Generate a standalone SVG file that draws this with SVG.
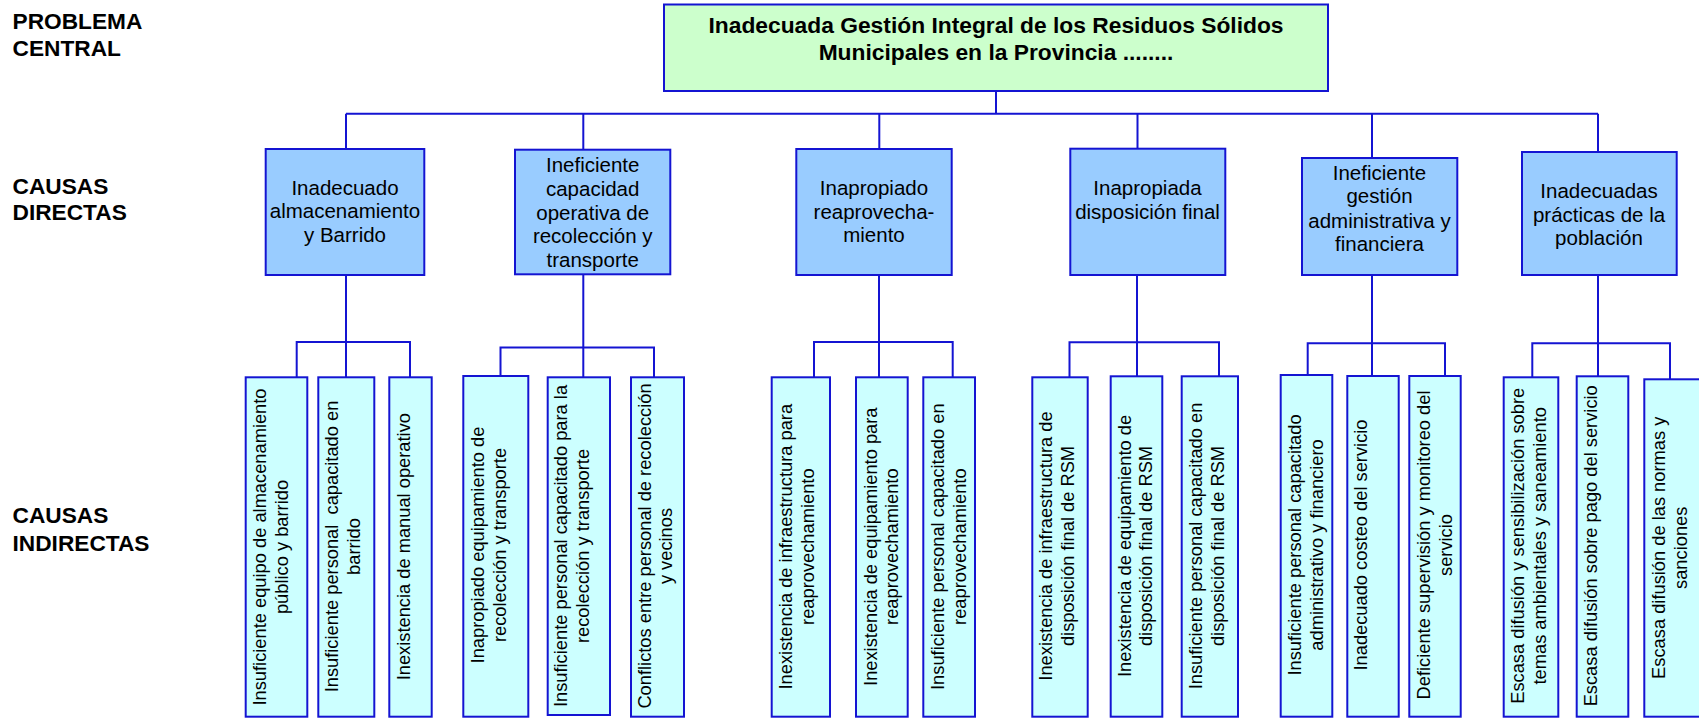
<svg xmlns="http://www.w3.org/2000/svg" width="1699" height="718" viewBox="0 0 1699 718">
<style>
.lbl{font-family:"Liberation Sans",Arial,sans-serif;font-weight:bold;font-size:22.7px;fill:#000}
.title{font-family:"Liberation Sans",Arial,sans-serif;font-weight:bold;font-size:22.8px;fill:#000;text-anchor:middle}
.mid{font-family:"Liberation Sans",Arial,sans-serif;font-size:20.5px;fill:#000;text-anchor:middle}
.rot{font-family:"Liberation Sans",Arial,sans-serif;font-size:18.3px;fill:#000;text-anchor:middle}
.bxT{fill:#CCFFCC;stroke:#1414D2;stroke-width:2}
.bxM{fill:#99CCFF;stroke:#1414D2;stroke-width:2}
.bxB{fill:#CCFFFF;stroke:#1414D2;stroke-width:2}
.con{fill:none;stroke:#1414D2;stroke-width:2}
</style>
<rect width="1699" height="718" fill="#fff"/>
<g id="labels">
<text class="lbl" x="12.5" y="29">PROBLEMA</text>
<text class="lbl" x="12.5" y="55.7">CENTRAL</text>
<text class="lbl" x="12.5" y="194">CAUSAS</text>
<text class="lbl" x="12.5" y="220">DIRECTAS</text>
<text class="lbl" x="12.5" y="522.7">CAUSAS</text>
<text class="lbl" x="12.5" y="551">INDIRECTAS</text>
</g>
<g id="connectors">
<path class="con" d="M996 91V113.7M346 113.7H1598"/>
<path class="con" d="M346 113.7V149M583.3 113.7V149.7M879.3 113.7V149M1137.5 113.7V148.7M1372 113.7V158M1598 113.7V152"/>
<path class="con" d="M346 275V377.3M583.3 274.3V377.3M879 275V377.3M1137 275V376.3M1372 275V376M1598 275V376.3"/>
<path class="con" d="M296.7 377.3V342H410V377.3"/>
<path class="con" d="M500.5 376V347.5H654V377.3"/>
<path class="con" d="M814 377.3V342H952.7V377.3"/>
<path class="con" d="M1069.5 377.3V342.3H1219V377.3"/>
<path class="con" d="M1307.7 375V343.3H1445V376"/>
<path class="con" d="M1532.3 377.3V343.3H1670V379.3"/>
</g>
<g id="problema-central">
<rect class="bxT" x="664" y="4.5" width="664" height="86.5"/>
<text class="title" x="996" y="33.3">Inadecuada Gestión Integral de los Residuos Sólidos</text>
<text class="title" x="996" y="60">Municipales en la Provincia ........</text>
</g>
<g id="cd1">
<rect class="bxM" x="265.7" y="149" width="158.6" height="126"/>
<text class="mid" x="345"><tspan x="345" y="195">Inadecuado</tspan><tspan x="345" y="218.3">almacenamiento</tspan><tspan x="345" y="241.7">y Barrido</tspan></text>
</g>
<g id="cd2">
<rect class="bxM" x="515" y="149.7" width="155.3" height="124.6"/>
<text class="mid"><tspan x="592.7" y="171.7">Ineficiente</tspan><tspan x="592.7" y="196">capacidad</tspan><tspan x="592.7" y="220">operativa de</tspan><tspan x="592.7" y="243.3">recolección y</tspan><tspan x="592.7" y="266.7">transporte</tspan></text>
</g>
<g id="cd3">
<rect class="bxM" x="796.3" y="149" width="155.4" height="126"/>
<text class="mid"><tspan x="874" y="195">Inapropiado</tspan><tspan x="874" y="219">reaprovecha-</tspan><tspan x="874" y="242.3">miento</tspan></text>
</g>
<g id="cd4">
<rect class="bxM" x="1070.3" y="148.7" width="155" height="126.3"/>
<text class="mid"><tspan x="1147.5" y="195">Inapropiada</tspan><tspan x="1147.5" y="219">disposición final</tspan></text>
</g>
<g id="cd5">
<rect class="bxM" x="1302" y="158" width="155.3" height="117"/>
<text class="mid"><tspan x="1379.5" y="180">Ineficiente</tspan><tspan x="1379.5" y="203.3">gestión</tspan><tspan x="1379.5" y="227.7">administrativa y</tspan><tspan x="1379.5" y="250.7">financiera</tspan></text>
</g>
<g id="cd6">
<rect class="bxM" x="1522" y="152" width="154.7" height="123"/>
<text class="mid"><tspan x="1599" y="198.3">Inadecuadas</tspan><tspan x="1599" y="221.7">prácticas de la</tspan><tspan x="1599" y="245">población</tspan></text>
</g>
<g id="ci1a">
<rect class="bxB" x="245.7" y="377.3" width="61.6" height="339.4"/>
<text class="rot" transform="translate(266 547) rotate(-90)"><tspan x="0" y="0">Insuficiente equipo de almacenamiento</tspan><tspan x="0" y="21.7">público y barrido</tspan></text>
</g>
<g id="ci1b">
<rect class="bxB" x="318.3" y="377.3" width="56" height="339.4"/>
<text class="rot" xml:space="preserve" transform="translate(338.3 546.5) rotate(-90)"><tspan x="0" y="0">Insuficiente personal  capacitado en</tspan><tspan x="0" y="21.7">barrido</tspan></text>
</g>
<g id="ci1c">
<rect class="bxB" x="389.3" y="377.3" width="42.4" height="339.4"/>
<text class="rot" transform="translate(410 546.7) rotate(-90)">Inexistencia de manual operativo</text>
</g>
<g id="ci2a">
<rect class="bxB" x="463.3" y="376" width="65" height="340.7"/>
<text class="rot" transform="translate(484 545) rotate(-90)"><tspan x="0" y="0">Inapropiado equipamiento de</tspan><tspan x="0" y="21.7">recolección y transporte</tspan></text>
</g>
<g id="ci2b">
<rect class="bxB" x="547.7" y="377.3" width="62.3" height="337.7"/>
<text class="rot" transform="translate(567.3 546) rotate(-90)"><tspan x="0" y="0">Insuficiente personal capacitado para la</tspan><tspan x="0" y="21.7">recolección y transporte</tspan></text>
</g>
<g id="ci2c">
<rect class="bxB" x="631" y="377.3" width="53" height="339.4"/>
<text class="rot" transform="translate(650.7 546) rotate(-90)"><tspan x="0" y="0">Conflictos entre personal de recolección</tspan><tspan x="0" y="21.7">y vecinos</tspan></text>
</g>
<g id="ci3a">
<rect class="bxB" x="771.7" y="377.3" width="58.3" height="339.4"/>
<text class="rot" transform="translate(792.3 546.7) rotate(-90)"><tspan x="0" y="0">Inexistencia de infraestructura para</tspan><tspan x="0" y="21.7">reaprovechamiento</tspan></text>
</g>
<g id="ci3b">
<rect class="bxB" x="856" y="377.3" width="51.7" height="339.4"/>
<text class="rot" transform="translate(876.7 546.7) rotate(-90)"><tspan x="0" y="0">Inexistencia de equipamiento para</tspan><tspan x="0" y="21.7">reaprovechamiento</tspan></text>
</g>
<g id="ci3c">
<rect class="bxB" x="923.3" y="377.3" width="51.7" height="339.4"/>
<text class="rot" transform="translate(944 546.7) rotate(-90)"><tspan x="0" y="0">Insuficiente personal capacitado en</tspan><tspan x="0" y="21.7">reaprovechamiento</tspan></text>
</g>
<g id="ci4a">
<rect class="bxB" x="1032.3" y="377.3" width="55.4" height="339.4"/>
<text class="rot" transform="translate(1052.3 546) rotate(-90)"><tspan x="0" y="0">Inexistencia de infraestructura de</tspan><tspan x="0" y="21.7">disposición final de RSM</tspan></text>
</g>
<g id="ci4b">
<rect class="bxB" x="1110.7" y="376.3" width="51.6" height="340.4"/>
<text class="rot" transform="translate(1130.7 546) rotate(-90)"><tspan x="0" y="0">Inexistencia de equipamiento de</tspan><tspan x="0" y="21.7">disposición final de RSM</tspan></text>
</g>
<g id="ci4c">
<rect class="bxB" x="1181.7" y="376.3" width="56.3" height="340.4"/>
<text class="rot" transform="translate(1202.3 546) rotate(-90)"><tspan x="0" y="0">Insuficiente personal capacitado en</tspan><tspan x="0" y="21.7">disposición final de RSM</tspan></text>
</g>
<g id="ci5a">
<rect class="bxB" x="1280.7" y="375" width="51.6" height="341.7"/>
<text class="rot" transform="translate(1301 545) rotate(-90)"><tspan x="0" y="0">Insuficiente personal capacitado</tspan><tspan x="0" y="21.7">administrativo y financiero</tspan></text>
</g>
<g id="ci5b">
<rect class="bxB" x="1347.3" y="376" width="51.4" height="340.7"/>
<text class="rot" transform="translate(1367.3 545) rotate(-90)">Inadecuado costeo del servicio</text>
</g>
<g id="ci5c">
<rect class="bxB" x="1409.3" y="376" width="51.4" height="340.7"/>
<text class="rot" transform="translate(1430 545) rotate(-90)"><tspan x="0" y="0">Deficiente supervisión y monitoreo del</tspan><tspan x="0" y="21.7">servicio</tspan></text>
</g>
<g id="ci6a">
<rect class="bxB" x="1503.7" y="377.3" width="54.6" height="339.4"/>
<text class="rot" transform="translate(1524.3 545.8) rotate(-90)"><tspan x="0" y="0">Escasa difusión y sensibilización sobre</tspan><tspan x="0" y="21.7">temas ambientales y saneamiento</tspan></text>
</g>
<g id="ci6b">
<rect class="bxB" x="1576.7" y="376.3" width="51.6" height="340.4"/>
<text class="rot" transform="translate(1597.3 545.8) rotate(-90)">Escasa difusión sobre pago del servicio</text>
</g>
<g id="ci6c">
<rect class="bxB" x="1644.3" y="379.3" width="56" height="337.4"/>
<text class="rot" transform="translate(1665 547.8) rotate(-90)"><tspan x="0" y="0">Escasa difusión de las normas y</tspan><tspan x="0" y="21.7">sanciones</tspan></text>
</g>
</svg>
